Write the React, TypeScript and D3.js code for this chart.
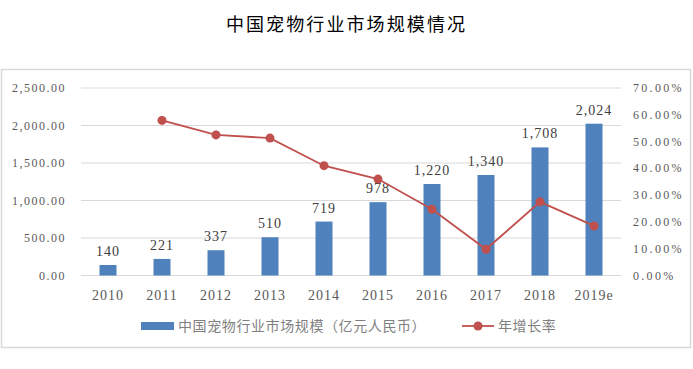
import React, { useEffect } from 'react';
import * as d3 from 'd3';

const years = ['2010', '2011', '2012', '2013', '2014', '2015', '2016', '2017', '2018', '2019e'];
const marketSize = [140, 221, 337, 510, 719, 978, 1220, 1340, 1708, 2024];
// growth rate (%), first year has none
const growth: (number | null)[] = [null, 57.9, 52.5, 51.3, 41.0, 36.0, 24.7, 9.8, 27.5, 18.5];
const leftTicks = [0, 500, 1000, 1500, 2000, 2500];
const rightTicks = [0, 10, 20, 30, 40, 50, 60, 70];

const barLabel = '中国宠物行业市场规模（亿元人民币）';
const lineLabel = '年增长率';
const title = '中国宠物行业市场规模情况';

const W = 693;
const H = 369;
const BAR = '#4F81BD';
const LINE = '#C0504D';
const SERIF = '"Liberation Serif", "DejaVu Serif", serif';
const CJK = '"Noto Sans CJK SC", "Noto Sans", sans-serif';

const App: React.FC = () => {
  useEffect(() => {
    document.body.style.margin = '0';
  }, []);

  const plot = { left: 81, right: 621, top: 88, bottom: 275.5 };

  const x = d3.scaleBand<string>().domain(years).range([plot.left, plot.right]);
  const yL = d3.scaleLinear().domain([0, 2500]).range([plot.bottom, plot.top]);
  const yR = d3.scaleLinear().domain([0, 70]).range([plot.bottom, plot.top]);
  const barW = 17;
  const cx = (d: string) => (x(d) ?? 0) + x.bandwidth() / 2;

  const linePts = years
    .map((yr, i) => ({ yr, v: growth[i] }))
    .filter((d) => d.v !== null) as { yr: string; v: number }[];
  const linePath = d3
    .line<{ yr: string; v: number }>()
    .x((d) => cx(d.yr))
    .y((d) => yR(d.v))(linePts);

  const fmtL = d3.format(',.2f');
  const fmtBar = d3.format(',');

  return (
    <svg width={W} height={H} style={{ display: 'block', background: '#fff' }}>
      {/* title */}
      <text x={W / 2} y={31} textAnchor="middle" fontFamily={CJK} fontSize={18}
        letterSpacing={2.1} fill="#000">{title}</text>

      {/* frame */}
      <rect x={1.5} y={69.5} width={689} height={278} fill="none" stroke="#d9d9d9" strokeWidth={1.5} />

      {/* grid */}
      {leftTicks.map((t) => (
        <line key={t} x1={plot.left} x2={plot.right} y1={yL(t)} y2={yL(t)}
          stroke="#d9d9d9" strokeWidth={1} />
      ))}

      {/* left axis labels */}
      {leftTicks.map((t) => (
        <text key={t} x={66} y={yL(t) + 4} textAnchor="end" fontFamily={SERIF} fontSize={12}
          letterSpacing={1.5} fill="#595959">{fmtL(t)}</text>
      ))}

      {/* right axis labels */}
      {rightTicks.map((t) => (
        <text key={t} x={633} y={yR(t) + 4} textAnchor="start" fontFamily={SERIF} fontSize={12}
          letterSpacing={2.3} fill="#595959">{t.toFixed(2) + '%'}</text>
      ))}

      {/* x labels */}
      {years.map((yr) => (
        <text key={yr} x={cx(yr)} y={300} textAnchor="middle" fontFamily={SERIF} fontSize={14}
          letterSpacing={1} fill="#595959">{yr}</text>
      ))}

      {/* bars */}
      {years.map((yr, i) => (
        <rect key={yr} x={cx(yr) - barW / 2} y={yL(marketSize[i])} width={barW}
          height={plot.bottom - yL(marketSize[i])} fill={BAR} />
      ))}

      {/* bar labels */}
      {years.map((yr, i) => (
        <text key={yr} x={cx(yr)} y={yL(marketSize[i]) - 9} textAnchor="middle" fontFamily={SERIF}
          fontSize={14} letterSpacing={1} fill="#404040">{fmtBar(marketSize[i])}</text>
      ))}

      {/* growth line */}
      <path d={linePath ?? ''} fill="none" stroke={LINE} strokeWidth={1.8} />
      {linePts.map((d) => (
        <circle key={d.yr} cx={cx(d.yr)} cy={yR(d.v)} r={4.5} fill={LINE} />
      ))}

      {/* legend */}
      <rect x={141} y={322} width={33} height={8} fill={BAR} />
      <text x={178} y={331} fontFamily={CJK} fontSize={14} letterSpacing={0.6} fill="#7f7f7f">{barLabel}</text>
      <line x1={462} x2={494} y1={326} y2={326} stroke={LINE} strokeWidth={1.8} />
      <circle cx={478} cy={326} r={4.5} fill={LINE} />
      <text x={498} y={331} fontFamily={CJK} fontSize={14} letterSpacing={0.6} fill="#7f7f7f">{lineLabel}</text>
    </svg>
  );
};

export default App;
